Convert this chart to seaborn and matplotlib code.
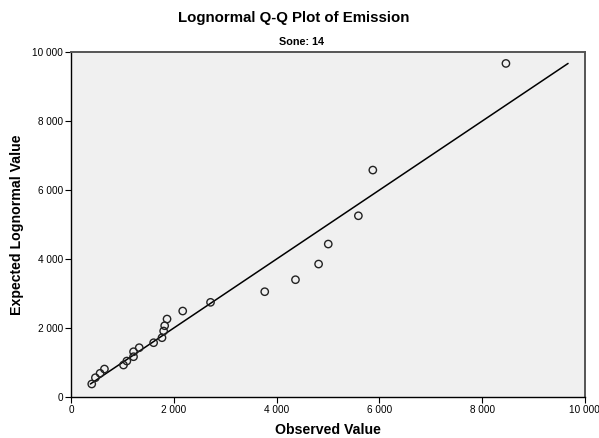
import matplotlib
matplotlib.use("Agg")
import matplotlib.pyplot as plt
import matplotlib.ticker as mticker
import seaborn as sns
import pandas as pd

# Observed emission values and the matching expected lognormal quantiles
observed = [404, 475, 566, 651, 1022, 1087, 1217, 1217, 1328, 1608, 1771, 1803,
            1823, 1869, 2174, 2715, 3770, 4368, 4818, 5006, 5592, 5873, 8463]
expected = [377, 560, 687, 811, 927, 1043, 1168, 1313, 1430, 1574, 1719, 1913,
            2067, 2261, 2493, 2745, 3053, 3401, 3855, 4435, 5255, 6580, 9672]
ticks = [0, 2000, 4000, 6000, 8000, 10000]

title = "Lognormal Q-Q Plot of Emission"
subtitle = "Sone: 14"
xlabel = "Observed Value"
ylabel = "Expected Lognormal Value"

sns.set_theme(style="white")
plt.rcParams["font.family"] = ["Liberation Sans", "DejaVu Sans"]
plt.rcParams["text.color"] = "black"
plt.rcParams["axes.labelcolor"] = "black"

df = pd.DataFrame({"observed": observed, "expected": expected})
lo = min(min(observed), min(expected))
hi = max(max(observed), max(expected))
ref = pd.DataFrame({"x": [lo, hi], "y": [lo, hi]})

fig = plt.figure(figsize=(5.99, 4.38), dpi=100)
ax = fig.add_axes([0.1185, 0.0936, 0.858, 0.7874])
ax.set_facecolor("#f0f0f0")

sns.lineplot(data=ref, x="x", y="y", ax=ax, color="black", linewidth=1.1)
sns.scatterplot(data=df, x="observed", y="expected", ax=ax, s=28,
                facecolor="none", edgecolor="#222222", linewidth=1.0, zorder=3)

ax.set_xlim(0, 10000)
ax.set_ylim(0, 10000)
ax.set_xticks(ticks)
ax.set_yticks(ticks)
fmt = mticker.FuncFormatter(lambda v, p: f"{int(v):,}".replace(",", " "))
ax.xaxis.set_major_formatter(fmt)
ax.yaxis.set_major_formatter(fmt)
ax.tick_params(axis="both", which="major", direction="out", length=4.5, width=0.8,
               labelsize=7.2, colors="black", bottom=True, left=True, pad=1)

for side, sp in ax.spines.items():
    sp.set_visible(True)
    sp.set_color("#555555" if side in ("top", "right") else "black")
    sp.set_linewidth(1.4 if side in ("top", "right") else 1.0)

ax.set_xlabel(xlabel, fontsize=10.2, fontweight="bold", labelpad=6, color="black")
ax.set_ylabel(ylabel, fontsize=10.2, fontweight="bold", labelpad=6, color="black")

fig.text(0.49, 0.96, title, ha="center", va="center", fontsize=10.8,
         fontweight="bold", color="black")
fig.text(0.503, 0.903, subtitle, ha="center", va="center", fontsize=7.8,
         fontweight="bold", color="black")

fig.savefig("out.png", dpi=100)
